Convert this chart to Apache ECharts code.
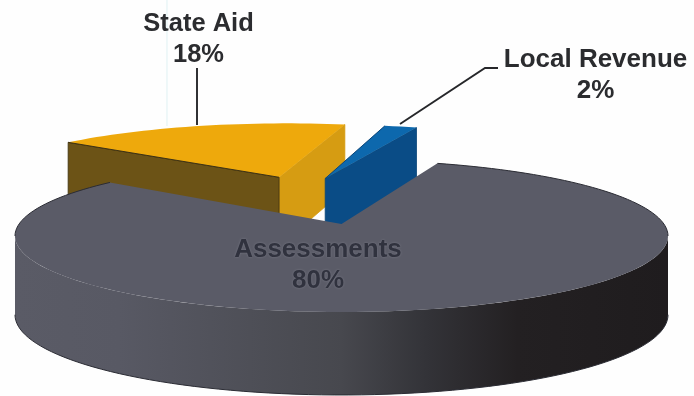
<!DOCTYPE html>
<html>
<head>
<meta charset="utf-8">
<style>html,body{margin:0;padding:0;background:#fff}#chart{width:694px;height:396px}</style>
<script src="https://cdn.jsdelivr.net/npm/echarts@6/dist/echarts.min.js"></script>
</head>
<body>
<div id="chart"></div>
<script>
// Revenue shares, listed in the order the slices are painted (far to near).
const categories = ['State Aid', 'Local Revenue', 'Assessments'];
const shares = [18, 2, 80];

// Camera model for the tilted disc.
const view = { cx: 341.5, cy: 224, ax: 322.4, ay: 74.1, persp: 0.158, heightPersp: 0.06 };
const firstAngle = 142; // degrees, slices run clockwise from here

// Look of each slice: pull-out on the disc plane, radius, wall height and face colours.
const looks = {
  'State Aid': { pull: [-0.215, 0.7], reach: 1.03, height: 72, top: '#eea90c', wallA: '#6c5316', wallB: '#d69c12', edge: '#3f3212' },
  'Local Revenue': { pull: [-0.056, 0.68], reach: 1.02, height: 76, top: '#0d68ad', wallA: '#0a4c86', wallB: null, edge: '#0a4579' },
  'Assessments': { pull: [0, 0], reach: 1, height: 78, top: '#5a5b67', wallA: null, wallB: null, edge: '#2b2c34' }
};

// Label placement: anchor x, first and second baselines, size and colour.
const labels = {
  'State Aid': { x: 198.5, y1: 33, y2: 64, size: 25.5, color: '#2b2c2f' },
  'Local Revenue': { x: 595.5, y1: 69, y2: 100, size: 26, color: '#2b2c2f' },
  'Assessments': { x: 318, y1: 259, y2: 290, size: 26, color: '#30323e', glow: '#7d7e8a' }
};
const leaders = {
  'State Aid': [[197, 68], [197, 125]],
  'Local Revenue': [[498, 68], [485, 68], [400, 124]]
};

const wallStops = [
  [0, '#5a5b66'], [0.16, '#585964'], [0.5, '#47484e'], [0.63, '#333338'],
  [0.77, '#232022'], [1, '#1f1c1e']
];

// Angles where the disc's silhouette turns from far rim to near rim.
const turnRight = -Math.asin(view.persp) * 180 / Math.PI;
const turnLeft = -180 - turnRight;

function project(x, y, lift) {
  const d = 1 + view.persp * y;
  const px = view.cx + view.ax * x / d;
  const py = view.cy - view.ay * y / d;
  return [px, lift ? py + lift / (1 + view.heightPersp * y) : py];
}
function rim(deg, look, lift) {
  const a = deg * Math.PI / 180;
  return project(look.reach * Math.cos(a) + look.pull[0], look.reach * Math.sin(a) + look.pull[1], lift);
}
function sweep(from, to, look, lift) {
  const pts = [];
  const steps = Math.max(2, Math.ceil(Math.abs(to - from) / 2));
  for (let i = 0; i <= steps; i++) pts.push(rim(from + (to - from) * i / steps, look, lift));
  return pts;
}
function radialWall(deg, look, fill, edge) {
  const p = look.pull;
  return {
    type: 'polygon',
    shape: { points: [project(p[0], p[1], 0), rim(deg, look, 0), rim(deg, look, look.height), project(p[0], p[1], look.height)] },
    style: { fill: fill, stroke: edge, lineWidth: 0.8 }
  };
}
const outline = (points, color, width) => ({
  type: 'polyline',
  shape: { points: points },
  style: { fill: 'none', stroke: color, lineWidth: width }
});

function renderSlice(params, api) {
  const i = params.dataIndex;
  const name = categories[i];
  const look = looks[name];
  let start = firstAngle;
  for (let k = 0; k < i; k++) start -= shares[k] * 3.6;
  const end = start - api.value(0) * 3.6;
  const arc = sweep(start, end, look, 0);
  const apex = project(look.pull[0], look.pull[1], 0);
  const kids = [];

  if (name === 'Assessments') {
    // Near wall, running between the two silhouette turns.
    kids.push({
      type: 'polygon',
      shape: { points: sweep(turnRight, turnLeft, look, 0).concat(sweep(turnLeft, turnRight, look, look.height)) },
      style: {
        fill: { type: 'linear', x: 15, y: 0, x2: 668, y2: 0, global: true,
          colorStops: wallStops.map(s => ({ offset: s[0], color: s[1] })) }
      }
    });
    kids.push(outline(sweep(turnLeft, turnRight, look, look.height), look.edge, 1));
  } else {
    if (look.wallB) kids.push(radialWall(end, look, look.wallB, look.wallB));
    if (look.wallA) kids.push(radialWall(name === 'State Aid' ? start : end, look, look.wallA, look.edge));
  }
  kids.push({
    type: 'polygon',
    shape: { points: [apex].concat(arc) },
    style: { fill: look.top }
  });
  if (name === 'Assessments') {
    // Only the far rim carries a visible dark edge.
    kids.push(outline(sweep(end, turnLeft, look, 0), look.edge, 1));
    kids.push(outline(sweep(start, turnRight, look, 0), look.edge, 1));
  } else {
    kids.push(outline([rim(start, look, 0), apex], look.edge, 1));
  }
  return { type: 'group', children: kids };
}

function renderLabel(params, api) {
  const name = categories[params.dataIndex];
  const spot = labels[name];
  const pct = api.value(0) + '%';
  const font = 'bold ' + spot.size + 'px "Liberation Sans", Arial, sans-serif';
  const text = (str, y) => ({
    type: 'text',
    style: {
      text: str, x: spot.x, y: y - spot.size * 0.36, font: font, fill: spot.color,
      align: 'center', verticalAlign: 'middle',
      textShadowColor: spot.glow || 'transparent', textShadowBlur: spot.glow ? 2 : 0
    }
  });
  const kids = [text(name, spot.y1), text(pct, spot.y2)];
  if (leaders[name]) kids.push(outline(leaders[name], '#26272a', 1.9));
  return { type: 'group', children: kids };
}

const chart = echarts.init(document.getElementById('chart'), null, { renderer: 'canvas' });
chart.setOption({
  animation: false,
  backgroundColor: '#fefefe',
  graphic: [{
    // Faint fold line in the page above the pie.
    type: 'line',
    shape: { x1: 167, y1: 0, x2: 167, y2: 126 },
    style: { stroke: '#dff1f3', lineWidth: 1 },
    z: 0,
    silent: true
  }],
  series: [
    {
      type: 'custom',
      coordinateSystem: 'none',
      renderItem: renderSlice,
      data: shares.map(v => [v]),
      z: 1,
      silent: true
    },
    {
      type: 'custom',
      coordinateSystem: 'none',
      renderItem: renderLabel,
      data: shares.map(v => [v]),
      z: 2,
      silent: true
    }
  ]
});
</script>
</body>
</html>
